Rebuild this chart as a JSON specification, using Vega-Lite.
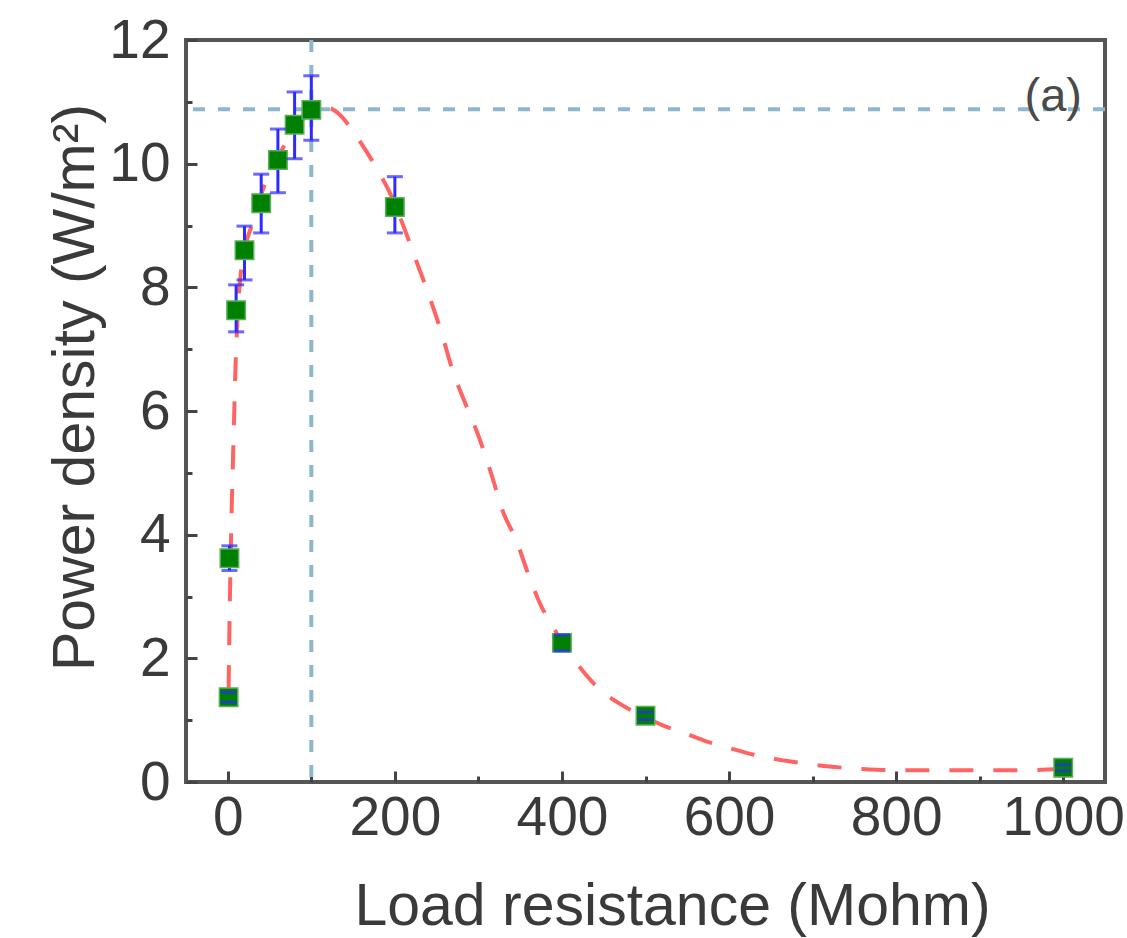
{
  "$schema": "https://vega.github.io/schema/vega-lite/v6.json",
  "width": 919,
  "height": 742,
  "autosize": {"type": "none"},
  "padding": {"left": 186, "top": 40, "right": 22, "bottom": 156},
  "background": "white",
  "config": {
    "view": {"stroke": "#555555", "strokeWidth": 4},
    "font": "Liberation Sans",
    "axis": {
      "domain": false,
      "grid": false,
      "labelFont": "Liberation Sans",
      "labelFontSize": 55,
      "labelColor": "#3a3a3a",
      "titleFont": "Liberation Sans",
      "titleFontSize": 59,
      "titleFontWeight": "normal",
      "titleColor": "#3a3a3a",
      "tickColor": "#444444",
      "tickWidth": 3
    }
  },
  "datasets": {
    "measured": [
      {"R": 1, "P": 1.37, "lo": 1.29, "hi": 1.45},
      {"R": 2, "P": 3.62, "lo": 3.42, "hi": 3.82},
      {"R": 10, "P": 7.63, "lo": 7.28, "hi": 8.04},
      {"R": 20, "P": 8.6, "lo": 8.12, "hi": 8.99},
      {"R": 40, "P": 9.36, "lo": 8.88, "hi": 9.83},
      {"R": 60, "P": 10.06, "lo": 9.53, "hi": 10.56},
      {"R": 80, "P": 10.63, "lo": 10.08, "hi": 11.16},
      {"R": 100, "P": 10.87, "lo": 10.38, "hi": 11.42},
      {"R": 200, "P": 9.3, "lo": 8.88, "hi": 9.79},
      {"R": 400, "P": 2.25, "lo": 2.12, "hi": 2.38},
      {"R": 500, "P": 1.07, "lo": 1.01, "hi": 1.13},
      {"R": 1000, "P": 0.23, "lo": 0.18, "hi": 0.28}
    ],
    "fit": [
      {"R": 1, "P": 1.5}, {"R": 2, "P": 2.5}, {"R": 3, "P": 3.3}, {"R": 4, "P": 4.0},
      {"R": 5, "P": 4.6}, {"R": 6, "P": 5.1}, {"R": 7, "P": 5.6}, {"R": 8, "P": 6.1},
      {"R": 9, "P": 6.6}, {"R": 10, "P": 7.0}, {"R": 12, "P": 7.6}, {"R": 15, "P": 8.15},
      {"R": 20, "P": 8.6}, {"R": 30, "P": 9.05}, {"R": 40, "P": 9.5}, {"R": 50, "P": 9.85},
      {"R": 60, "P": 10.1}, {"R": 70, "P": 10.35}, {"R": 80, "P": 10.55}, {"R": 90, "P": 10.72},
      {"R": 100, "P": 10.84}, {"R": 110, "P": 10.9}, {"R": 120, "P": 10.9}, {"R": 135, "P": 10.78},
      {"R": 150, "P": 10.52}, {"R": 165, "P": 10.22}, {"R": 180, "P": 9.88}, {"R": 195, "P": 9.5},
      {"R": 210, "P": 9.0}, {"R": 225, "P": 8.45}, {"R": 240, "P": 7.9}, {"R": 255, "P": 7.3},
      {"R": 270, "P": 6.62}, {"R": 285, "P": 6.1}, {"R": 300, "P": 5.6}, {"R": 315, "P": 5.0},
      {"R": 330, "P": 4.35}, {"R": 345, "P": 3.92}, {"R": 360, "P": 3.35}, {"R": 375, "P": 2.85},
      {"R": 390, "P": 2.5}, {"R": 400, "P": 2.25}, {"R": 420, "P": 1.88}, {"R": 445, "P": 1.5},
      {"R": 475, "P": 1.22}, {"R": 500, "P": 1.05}, {"R": 520, "P": 0.92}, {"R": 545, "P": 0.8},
      {"R": 570, "P": 0.67}, {"R": 600, "P": 0.55}, {"R": 630, "P": 0.44}, {"R": 660, "P": 0.36},
      {"R": 690, "P": 0.3}, {"R": 720, "P": 0.25}, {"R": 760, "P": 0.21}, {"R": 800, "P": 0.19},
      {"R": 850, "P": 0.19}, {"R": 900, "P": 0.19}, {"R": 950, "P": 0.19}, {"R": 1000, "P": 0.21}
    ],
    "hline": [{"P": 10.88}],
    "vline": [{"R": 100}],
    "tag": [{"R": 988, "P": 11.08, "label": "(a)"}]
  },
  "layer": [
    {
      "data": {"name": "hline"},
      "mark": {"type": "rule", "color": "#8db6cf", "strokeWidth": 4, "strokeDash": [12, 13]},
      "encoding": {"y": {"field": "P", "type": "quantitative"}}
    },
    {
      "data": {"name": "vline"},
      "mark": {"type": "rule", "color": "#8db6cf", "strokeWidth": 4, "strokeDash": [12, 13]},
      "encoding": {"x": {"field": "R", "type": "quantitative"}}
    },
    {
      "data": {"name": "fit"},
      "mark": {"type": "line", "color": "#ff6464", "strokeWidth": 4, "strokeDash": [24, 20], "interpolate": "monotone"},
      "encoding": {
        "x": {
          "field": "R", "type": "quantitative",
          "scale": {"domain": [-50, 1050], "nice": false, "zero": false},
          "axis": {
            "title": "Load resistance (Mohm)",
            "format": "d",
            "values": [0, 100, 200, 300, 400, 500, 600, 700, 800, 900, 1000],
            "labelExpr": "datum.value % 200 === 0 ? datum.label : ''",
            "tickSize": {"expr": "datum.value % 200 === 0 ? -11 : -6"},
            "labelPadding": 20,
            "titleX": 486,
            "titleY": 142,
            "titleBaseline": "alphabetic",
            "titleAlign": "center",
            "titleAnchor": "start"
          }
        },
        "y": {
          "field": "P", "type": "quantitative",
          "scale": {"domain": [0, 12], "nice": false},
          "axis": {
            "title": "Power density (W/m²)",
            "format": "d",
            "values": [0, 1, 2, 3, 4, 5, 6, 7, 8, 9, 10, 11, 12],
            "labelExpr": "datum.value % 2 === 0 ? datum.label : ''",
            "tickSize": {"expr": "datum.value % 2 === 0 ? -11 : -6"},
            "labelPadding": 27,
            "titleX": -111,
            "titleY": 347,
            "titleBaseline": "middle",
            "titleAlign": "center",
            "titleAnchor": "start"
          }
        }
      }
    },
    {
      "data": {"name": "measured"},
      "mark": {"type": "rule", "color": "#2b2bff", "strokeWidth": 3},
      "encoding": {
        "x": {"field": "R", "type": "quantitative"},
        "y": {"field": "lo", "type": "quantitative"},
        "y2": {"field": "hi"}
      }
    },
    {
      "data": {"name": "measured"},
      "mark": {"type": "square", "color": "#008000", "filled": true, "opacity": 1, "size": 340, "stroke": "#5aad5a", "strokeWidth": 1.5},
      "encoding": {
        "x": {"field": "R", "type": "quantitative"},
        "y": {"field": "P", "type": "quantitative"}
      }
    },
    {
      "data": {"name": "measured"},
      "mark": {"type": "tick", "color": "#2b2bff", "orient": "horizontal", "size": 16, "thickness": 3},
      "encoding": {
        "x": {"field": "R", "type": "quantitative"},
        "y": {"field": "hi", "type": "quantitative"}
      }
    },
    {
      "data": {"name": "measured"},
      "mark": {"type": "tick", "color": "#2b2bff", "orient": "horizontal", "size": 16, "thickness": 3},
      "encoding": {
        "x": {"field": "R", "type": "quantitative"},
        "y": {"field": "lo", "type": "quantitative"}
      }
    },
    {
      "data": {"name": "tag"},
      "mark": {"type": "text", "font": "Liberation Sans", "fontSize": 47, "color": "#4a4a4a", "align": "center", "baseline": "middle"},
      "encoding": {
        "x": {"field": "R", "type": "quantitative"},
        "y": {"field": "P", "type": "quantitative"},
        "text": {"field": "label"}
      }
    }
  ]
}
